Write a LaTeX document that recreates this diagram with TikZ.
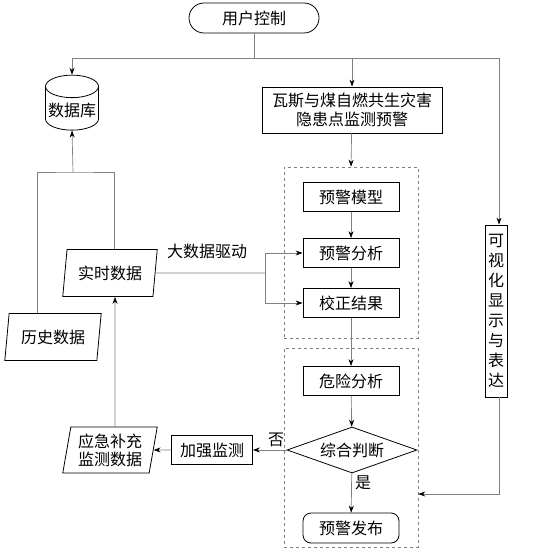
\documentclass[tikz,border=0pt]{standalone}
\usepackage{fontspec}
\setmainfont{Noto Sans CJK SC}
\usetikzlibrary{shapes,arrows.meta}

\begin{document}
\begin{tikzpicture}[x=1pt,y=-1pt,>={Stealth[black,length=7pt,width=5pt]}]
        \tikzstyle{every node}=[font=\fontsize{16}{19}\selectfont,inner sep=1pt]
        \tikzstyle{box}=[rectangle,draw,line width=0.8pt,minimum width=96,minimum height=29]
        \tikzstyle{term}=[rounded rectangle,draw,line width=0.8pt,minimum width=132,minimum height=30]
        \tikzstyle{data}=[trapezium,trapezium left angle=79,trapezium right angle=101,trapezium stretches=true,draw,line width=0.8pt,minimum width=95,minimum height=47,align=center,font=\fontsize{16}{18}\selectfont]
        \tikzstyle{group}=[draw=gray,dashed,line width=0.6pt,minimum width=134]
        \tikzstyle{line}=[draw=gray,line width=0.7pt]
        \useasboundingbox (0,0) rectangle (550,553);
        \node[term] (user) at (254,18) {用户控制};
        \node[cylinder,shape border rotate=90,aspect=0.45,draw,line width=0.8pt,minimum width=53,minimum height=55] (db) at (72,110) {数据库};
        \node[box,minimum width=180,minimum height=46,align=center,font=\fontsize{16}{19}\selectfont] (warn) at (352,110) {瓦斯与煤自燃共生灾害\\隐患点监测预警};
        \node[group,minimum height=171] (g1) at (351,252.5) {};
        \node[group,minimum height=199] (g2) at (351,447.5) {};
        \node[box] (model) at (351,197) {预警模型};
        \node[box] (analyse) at (351,253) {预警分析};
        \node[box] (correct) at (351,303) {校正结果};
        \node[box] (risk) at (351,381) {危险分析};
        \node[diamond,draw,line width=0.8pt,aspect=2.8,inner sep=0pt,minimum width=130,minimum height=46] (judge) at (352,450) {综合判断};
        \node[box,rounded corners=8pt,minimum height=30] (publish) at (351,528) {预警发布};
        \node[box,minimum width=81] (monitor) at (212,450) {加强监测};
        \node[data,minimum height=46] (emerg) at (110,450) {应急补充\\监测数据};
        \node[data] (realtime) at (110,273) {实时数据};
        \node[data,minimum width=97] (history) at (53,337) {历史数据};
        \node[box,minimum width=22,minimum height=172,text width=16pt,align=center,inner sep=2pt,font=\fontsize{16}{20}\selectfont] (visual) at (496,311) {可\\视\\化\\显\\示\\与\\表\\达};
        \node (bigdata) at (207,251) {大数据驱动};
        \node (no) at (276,440) {否};
        \node (yes) at (363,483) {是};
        % user control branches
        \coordinate (split) at (254,58);
        \coordinate (feed) at (73,172);
        \coordinate (bus) at (265,273);
        \draw[line] (user) -- (split);
        \draw[line,->] (split) -| (db.north);
        \draw[line,->] (split) -| (warn.north);
        \draw[line,->] (split) -| ([xshift=3]visual.north);
        \draw[line,->] (warn) -- (g1.north);
        \draw[line,->] (model) -- (analyse);
        \draw[line,->] (analyse) -- (correct);
        \draw[line,->] (correct) -- (risk);
        \draw[line,->] (risk) -- (judge);
        \draw[line,->] (judge) -- (publish);
        \draw[line,->] (judge) -- (monitor);
        \draw[line,->] (monitor) -- (emerg);
        \draw[line,->] ([xshift=5]emerg.north) -- ([xshift=5]realtime.south);
        % data into the database
        \draw[line] ([xshift=-16]history.north) |- (feed) -| ([xshift=4]realtime.north);
        \draw[line,->] (feed) -- (db.south);
        \draw[line] (realtime) -- (bus);
        \draw[line,->] (bus) |- (analyse);
        \draw[line,->] (bus) |- (correct);
        \draw[line,->] ([xshift=3]visual.south) |- ([yshift=-46.5]g2.east);
\end{tikzpicture}
\end{document}
